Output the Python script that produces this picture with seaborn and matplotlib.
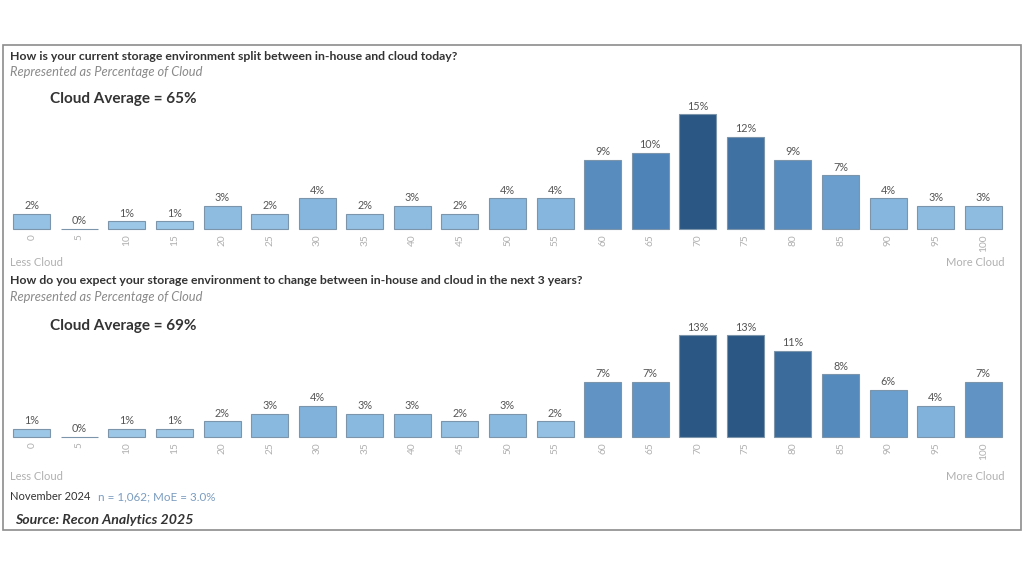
import numpy as np
import pandas as pd
import matplotlib
matplotlib.use("Agg")
import matplotlib.pyplot as plt
import matplotlib.colors as mcolors
from matplotlib.patches import Rectangle
import seaborn as sns

# ==========================================================
# DATA
# ==========================================================

cloud_pct = ["0", "5", "10", "15", "20", "25", "30", "35", "40", "45", "50",
             "55", "60", "65", "70", "75", "80", "85", "90", "95", "100"]

share_today = [2, 0, 1, 1, 3, 2, 4, 2, 3, 2, 4, 4, 9, 10, 15, 12, 9, 7, 4, 3, 3]
share_3yrs = [1, 0, 1, 1, 2, 3, 4, 3, 3, 2, 3, 2, 7, 7, 13, 13, 11, 8, 6, 4, 7]

title_today = "How is your current storage environment split between in-house and cloud today?"
title_3yrs = ("How do you expect your storage environment to change between "
              "in-house and cloud in the next 3 years?")
subtitle = "Represented as Percentage of Cloud"
avg_today = "Cloud Average = 65%"
avg_3yrs = "Cloud Average = 69%"

# ==========================================================
# STYLE
# ==========================================================

sns.set_theme(style="white")
plt.rcParams["font.family"] = ["Lato", "DejaVu Sans"]

W, H = 1024, 576
fig = plt.figure(figsize=(W / 100, H / 100), dpi=100)
fig.patch.set_facecolor("white")

cmap = mcolors.LinearSegmentedColormap.from_list(
    "tab_blue", ["#a4cdea", "#7eb0da", "#4e83b8", "#2a5783"])


def px(x, y):
    # pixel position -> figure fraction
    return x / W, 1 - y / H


def draw_panel(ax, values):
    vmax = max(values)
    colors = [cmap(v / vmax) for v in values]
    df = pd.DataFrame({"pct": cloud_pct, "share": values})
    sns.barplot(data=df, x="pct", y="share", hue="pct", palette=colors,
                legend=False, width=0.78, saturation=1, edgecolor="#7d95ab",
                linewidth=0.8, ax=ax)
    for bar in ax.patches:
        bar.set_clip_on(False)
    for cont in ax.containers:
        ax.bar_label(cont, fmt="{:.0f}%", padding=2, fontsize=7.8,
                     color="#555555")
    ax.set_xlim(-0.5, len(values) - 0.5)
    ax.set_ylim(0, 17)
    ax.set_yticks([])
    ax.set_xlabel("")
    ax.set_ylabel("")
    ax.tick_params(axis="x", length=0, pad=4, labelsize=7.3,
                   labelcolor="#b0b0b0", labelrotation=90)
    sns.despine(ax=ax, left=True, bottom=True)
    ax.patch.set_alpha(0)


# top panel: baseline y=229, top y=99
ax1 = fig.add_axes([8 / W, 1 - 229 / H, 999 / W, 130 / H])
draw_panel(ax1, share_today)

# bottom panel: baseline y=437, top y=304
ax2 = fig.add_axes([8 / W, 1 - 437 / H, 999 / W, 133 / H])
draw_panel(ax2, share_3yrs)

# ==========================================================
# TEXT
# ==========================================================

dark = "#333333"
grey = "#8a8a8a"

fig.text(*px(10, 56), title_today, fontsize=8.8, fontweight="bold",
         color=dark, va="center")
fig.text(*px(10, 72), subtitle, fontsize=9.3, style="italic",
         color=grey, va="center")
fig.text(*px(50, 99), avg_today, fontsize=11, fontweight="bold",
         color=dark, va="center")

fig.text(*px(10, 280), title_3yrs, fontsize=8.8, fontweight="bold",
         color=dark, va="center")
fig.text(*px(10, 297), subtitle, fontsize=9.3, style="italic",
         color=grey, va="center")
fig.text(*px(50, 326), avg_3yrs, fontsize=11, fontweight="bold",
         color=dark, va="center")

for y in (262, 476):
    fig.text(*px(10, y), "Less Cloud", fontsize=8, color="#b0b0b0",
             va="center")
    fig.text(*px(1004, y), "More Cloud", fontsize=8, color="#b0b0b0",
             va="center", ha="right")

fig.text(*px(10, 497), "November 2024", fontsize=8, color=dark,
         va="center")
fig.text(*px(98, 497), "n = 1,062; MoE = 3.0%", fontsize=8.4,
         color="#7b9cbf", va="center")
fig.text(*px(15, 520), "Source: Recon Analytics 2025", fontsize=10.2,
         fontweight="bold", style="italic", color=dark, va="center")

# outer frame
fig.add_artist(Rectangle((3 / W, 1 - 530 / H), 1018 / W, 485 / H,
                         transform=fig.transFigure, fill=False,
                         edgecolor="#8c8c8c", linewidth=1.2))

fig.savefig("out.png", dpi=100, facecolor="white")
